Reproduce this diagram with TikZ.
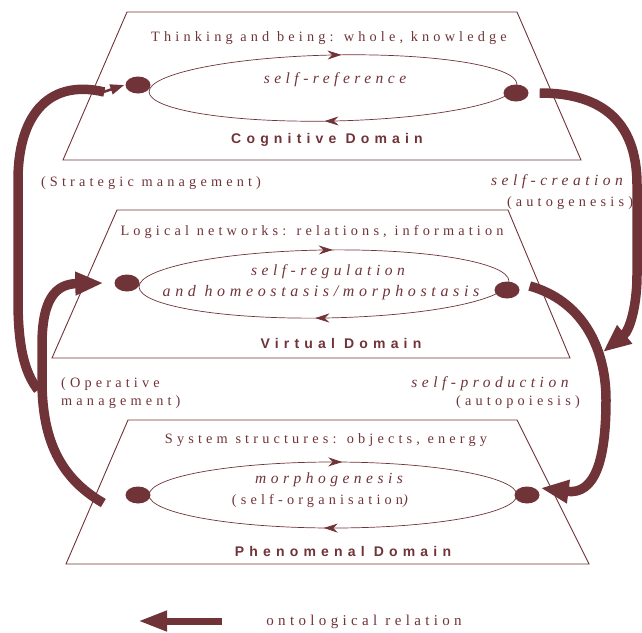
\documentclass[tikz,border=0pt]{standalone}
\usepackage{fontspec}
\setmainfont{Liberation Serif}
\setsansfont{Liberation Sans}
\newfontfamily\lsserif[LetterSpace=29]{Liberation Serif}
\newfontfamily\lssans[LetterSpace=37]{Liberation Sans}
\usetikzlibrary{arrows.meta,decorations.markings,shapes.geometric}
\definecolor{maroon}{RGB}{112,51,56}

\tikzset{
  plane/.style={draw=maroon, line width=0.9pt, line join=miter},
  cycleloop/.style={draw=maroon, line width=0.7pt, postaction=decorate,
    decoration={markings,
      mark=at position 0.262 with {\arrow{Stealth[length=14pt,width=9pt]}},
      mark=at position 0.762 with {\arrow{Stealth[length=14pt,width=9pt]}}}},
  procdot/.style={ellipse, fill=maroon, minimum width=25pt, minimum height=17pt, inner sep=0pt},
  onto/.style={draw=maroon, line width=9.5pt},
  ontohead/.style={onto, -{Triangle[length=28pt,width=22pt]}},
  lbl/.style={text=maroon, inner sep=0pt, font=\lsserif\fontsize{14.3pt}{17pt}\selectfont},
  itlbl/.style={text=maroon, inner sep=0pt, font=\lsserif\itshape\fontsize{15.5pt}{18pt}\selectfont},
  domainname/.style={text=maroon, inner sep=0pt, font=\lssans\bfseries\fontsize{14pt}{17pt}\selectfont},
}

\begin{document}
\begin{tikzpicture}[x=1pt, y=-1pt]
\useasboundingbox (0,0) rectangle (642,632);

% --- the three domain planes ---
\draw[plane] (127,12) -- (517,12) -- (581,160) -- (63,160) -- cycle;
\draw[plane] (117,210) -- (508,210) -- (570,358) -- (52,358) -- cycle;
\draw[plane] (128,420) -- (517,420) -- (589,564) -- (66,564) -- cycle;

% --- circular processes inside each plane ---
\draw[cycleloop, rotate around={1.2:(333,88)}] (333,88) ellipse [x radius=184, y radius=33];
\draw[cycleloop, rotate around={0.9:(324,284)}] (324,284) ellipse [x radius=185, y radius=34];
\draw[cycleloop] (333,495) ellipse [x radius=184, y radius=33];

\node[procdot] (cogL) at (138,85) {};
\node[procdot] (cogR) at (516,93) {};
\node[procdot] (virL) at (127,283) {};
\node[procdot] (virR) at (507,290) {};
\node[procdot] (phenL) at (138,495) {};
\node[procdot] (phenR) at (527,495) {};

% --- texts of the planes ---
\node[lbl] (cogT) at (329,38) {Thinking and being: whole, knowledge};
\node[itlbl] (cogP) at (335,80) {self-reference};
\node[domainname] (cogD) at (327,140) {Cognitive Domain};

\node[lbl] (virT) at (312,232) {Logical networks: relations, information};
\node[itlbl] (virP1) at (328,272) {self-regulation};
\node[itlbl, font=\lsserif\itshape\fontsize{16pt}{18pt}\selectfont] (virP2) at (321,293) {and homeostasis/morphostasis};
\node[domainname] (virD) at (341,343) {Virtual Domain};

\node[lbl] (phenT) at (326,440) {System structures: objects, energy};
\node[itlbl] (phenP1) at (329,480) {morphogenesis};
\node[lbl] (phenP2) at (322,501) {(self-organisation\textit{)}};
\node[domainname] (phenD) at (343,551) {Phenomenal Domain};

% --- texts between the planes ---
\node[lbl] (strat) at (151,183) {(Strategic management)};
\node[itlbl] (creat) at (557,182) {self-creation};
\node[lbl] (autog) at (570,203) {(autogenesis)};
\node[lbl, anchor=west] (oper1) at (61,384) {(Operative};
\node[lbl, anchor=west] (oper2) at (61,402) {management)};
\node[itlbl] (prod) at (490,384) {self-production};
\node[lbl] (autop) at (518,402) {(autopoiesis)};

% --- ontological relations ---
\coordinate (stratEnd) at ([xshift=-21pt,yshift=-7pt]cogL.west);
\coordinate (operTail) at ([xshift=-22pt,yshift=-8pt]phenL.west);
\coordinate (operTip) at ([xshift=-11pt]virL.west);
\coordinate (creTip) at (603,352);
\coordinate (prodTip) at ([xshift=1pt,yshift=7pt]phenR.east);

% strategic management: rises from the operative loop to the cognitive plane
\draw[onto] (38,390) .. controls (24,372) and (18,345) .. (18,300)
  -- (18,180) .. controls (18,120) and (45,78) .. (stratEnd);
\draw[draw=maroon, line width=2.5pt, -{Triangle[length=14pt,width=10pt]}]
  ([xshift=-1pt]stratEnd) -- ([xshift=-1pt]cogL.west);

% operative management: from the phenomenal to the virtual plane
\draw[ontohead] (operTail) .. controls (60,478) and (43,440) .. (42,385)
  -- (42,345) .. controls (42,300) and (55,284) .. (operTip);

% self-creation: from the cognitive plane down to the virtual plane
\draw[ontohead] ([xshift=11pt]cogR.east) .. controls (598,93) and (637,118) .. (637,185)
  -- (637,275) .. controls (637,305) and (630,330) .. (creTip);

% self-production: from the virtual plane down to the phenomenal plane
\draw[ontohead] ([xshift=10pt,yshift=4pt]virR.east) .. controls (580,300) and (606,345) .. (606,400)
  .. controls (606,460) and (595,495) .. (prodTip);

% --- legend ---
\coordinate (legR) at (222,621);
\coordinate (legL) at (138,621);
\draw[draw=maroon, line width=7pt, -{Triangle[length=29pt,width=19pt]}] (legR) -- (legL);
\node[lbl, font=\lsserif\fontsize{15pt}{18pt}\selectfont] (legT) at (364,622) {ontological relation};
\end{tikzpicture}
\end{document}
